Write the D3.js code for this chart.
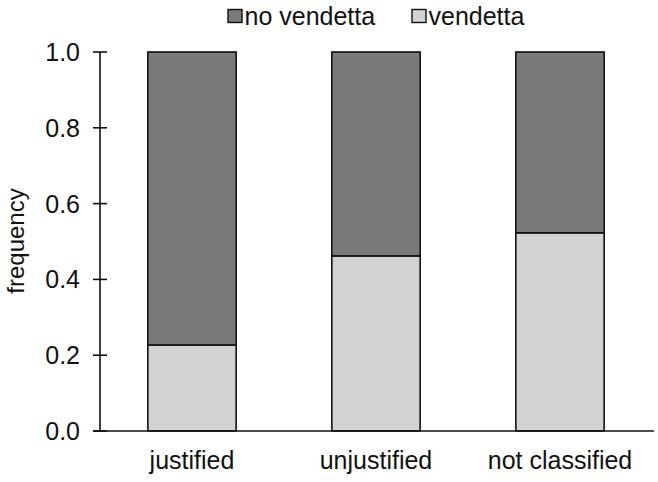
<!DOCTYPE html>
<html>
<head>
<meta charset="utf-8">
<script src="https://cdn.jsdelivr.net/npm/d3@7"></script>
<style>
  html, body { margin: 0; padding: 0; background: #fff; }
  svg { display: block; }
  text { font-family: "Liberation Sans", Arial, sans-serif; fill: #111; }
</style>
</head>
<body>
<div id="chart"></div>
<script>
const categories = ["justified", "unjustified", "not classified"];
const vendetta = [0.227, 0.462, 0.523];
const noVendetta = [0.773, 0.538, 0.477];
const seriesNames = ["no vendetta", "vendetta"];
const yTicks = [0.0, 0.2, 0.4, 0.6, 0.8, 1.0];

const W = 658, H = 482;
const colors = { "vendetta": "#d3d3d3", "no vendetta": "#7a7a7a" };
const FS = 25;

const svg = d3.select("#chart").append("svg").attr("width", W).attr("height", H);

const x = d3.scaleBand().domain(categories).range([100, 652])
  .paddingInner(0.52).paddingOuter(0.26);
const y = d3.scaleLinear().domain([0, 1]).range([431, 52]);

const rows = categories.map((c, i) => ({ cat: c, vendetta: vendetta[i], "no vendetta": noVendetta[i] }));
const stack = d3.stack().keys(["vendetta", "no vendetta"])(rows);

const g = svg.append("g");
stack.forEach(layer => {
  g.selectAll(null).data(layer).join("rect")
    .attr("x", d => x(d.data.cat))
    .attr("width", x.bandwidth())
    .attr("y", d => y(d[1]))
    .attr("height", d => y(d[0]) - y(d[1]))
    .attr("fill", colors[layer.key])
    .attr("stroke", "#111")
    .attr("stroke-width", 1.6);
});

// y axis
svg.append("line").attr("x1", 100).attr("x2", 100).attr("y1", y(1)).attr("y2", y(0))
  .attr("stroke", "#111").attr("stroke-width", 1.6);
yTicks.forEach(t => {
  svg.append("line").attr("x1", 93).attr("x2", 107).attr("y1", y(t)).attr("y2", y(t))
    .attr("stroke", "#111").attr("stroke-width", 1.6);
  svg.append("text")
    .attr("x", 80).attr("y", y(t) + 9)
    .attr("text-anchor", "end")
    .attr("font-size", FS)
    .text(d3.format(".1f")(t));
});

// x axis
svg.append("line").attr("x1", 93).attr("x2", 654).attr("y1", y(0)).attr("y2", y(0))
  .attr("stroke", "#111").attr("stroke-width", 1.6);
categories.forEach(c => {
  svg.append("text")
    .attr("x", x(c) + x.bandwidth() / 2).attr("y", 469)
    .attr("text-anchor", "middle")
    .attr("font-size", FS)
    .text(c);
});

// y label
svg.append("text")
  .attr("transform", "translate(24,241) rotate(-90)")
  .attr("text-anchor", "middle")
  .attr("font-size", 24)
  .text("frequency");

// legend
const legendX = [228, 412];
seriesNames.forEach((s, i) => {
  svg.append("rect").attr("x", legendX[i]).attr("y", 9.5).attr("width", 14).attr("height", 13)
    .attr("fill", colors[s]).attr("stroke", "#111").attr("stroke-width", 1.4);
  svg.append("text")
    .attr("x", legendX[i] + 16.5).attr("y", 25)
    .attr("font-size", FS)
    .text(s);
});
</script>
</body>
</html>
